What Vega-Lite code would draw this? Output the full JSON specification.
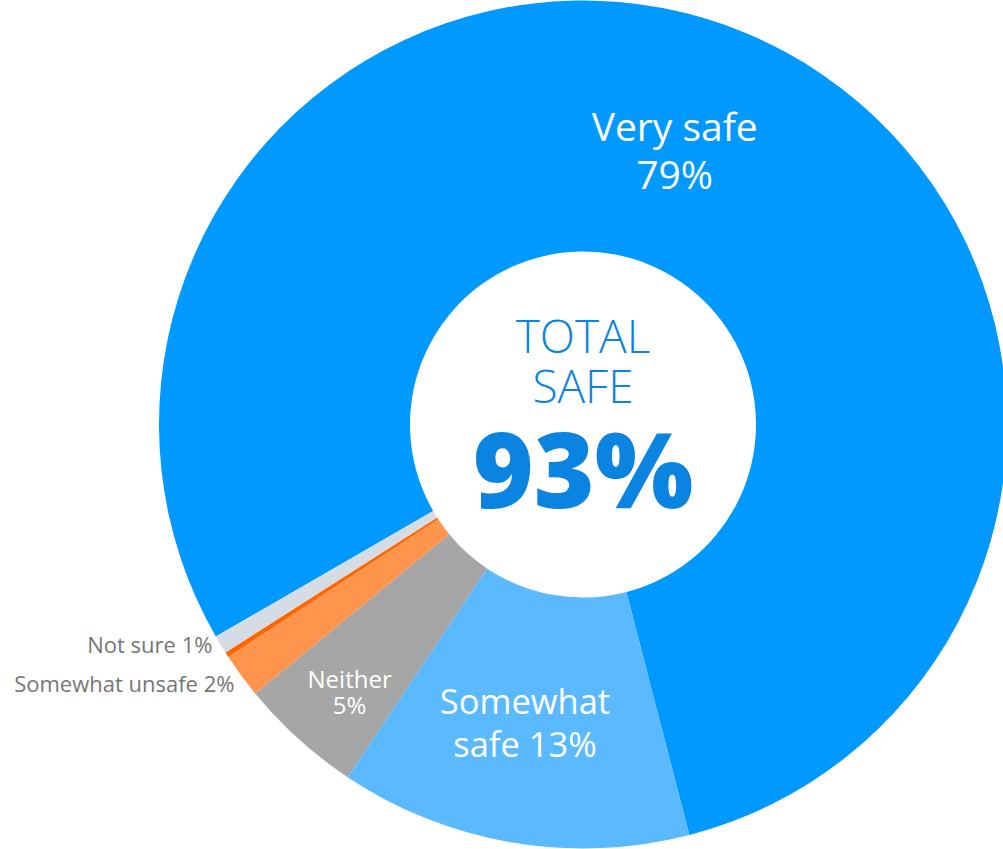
{
  "$schema": "https://vega.github.io/schema/vega-lite/v6.json",
  "autosize": "none",
  "width": 840,
  "height": 849,
  "padding": {"left": 163, "top": 0, "right": 0, "bottom": 0},
  "background": "white",
  "config": {"view": {"stroke": null}, "text": {"font": "Open Sans"}},
  "datasets": {
    "answers": [
      {"category": "Very safe", "value": 79.3, "order": 1, "line1": "Very safe", "line2": "79%"},
      {"category": "Somewhat safe", "value": 13.4, "order": 2, "line1": "Somewhat", "line2": "safe 13%"},
      {"category": "Neither", "value": 4.7, "order": 3, "line1": "Neither", "line2": "5%"},
      {"category": "Somewhat unsafe", "value": 1.7, "order": 4, "line1": "Somewhat unsafe 2%", "line2": ""},
      {"category": "Very unsafe", "value": 0.2, "order": 5, "line1": "", "line2": ""},
      {"category": "Not sure", "value": 0.7, "order": 6, "line1": "Not sure 1%", "line2": ""}
    ],
    "center": [{"title1": "TOTAL", "title2": "SAFE", "total": "93%"}]
  },
  "layer": [
    {
      "data": {"name": "answers"},
      "encoding": {
        "theta": {"field": "value", "type": "quantitative", "stack": true, "scale": {"range": [-2.0944, 4.1888]}},
        "order": {"field": "order", "type": "quantitative"}
      },
      "layer": [
        {
          "mark": {"type": "arc", "outerRadius": 424, "innerRadius": 173},
          "encoding": {
            "color": {
              "field": "category", "type": "nominal", "legend": null,
              "scale": {
                "domain": ["Very safe", "Somewhat safe", "Neither", "Somewhat unsafe", "Very unsafe", "Not sure"],
                "range": ["#0099FF", "#5BBAFF", "#A6A6A6", "#FF944D", "#FF6600", "#D6DCE5"]
              }
            }
          }
        },
        {
          "mark": {"type": "text", "radius": 307, "dx": -27, "align": "center", "baseline": "alphabetic", "fontSize": 39, "color": "white"},
          "encoding": {"text": {"condition": {"test": "datum.category === 'Very safe'", "field": "line1"}, "value": ""}}
        },
        {
          "mark": {"type": "text", "radius": 307, "dx": -27, "dy": 48, "align": "center", "baseline": "alphabetic", "fontSize": 39, "color": "white"},
          "encoding": {"text": {"condition": {"test": "datum.category === 'Very safe'", "field": "line2"}, "value": ""}}
        },
        {
          "mark": {"type": "text", "radius": 294, "dx": -9, "align": "center", "baseline": "alphabetic", "fontSize": 34.5, "color": "white"},
          "encoding": {"text": {"condition": {"test": "datum.category === 'Somewhat safe'", "field": "line1"}, "value": ""}}
        },
        {
          "mark": {"type": "text", "radius": 294, "dx": -9, "dy": 43, "align": "center", "baseline": "alphabetic", "fontSize": 34.5, "color": "white"},
          "encoding": {"text": {"condition": {"test": "datum.category === 'Somewhat safe'", "field": "line2"}, "value": ""}}
        },
        {
          "mark": {"type": "text", "radius": 355, "dx": 5, "align": "center", "baseline": "alphabetic", "fontSize": 24, "color": "white"},
          "encoding": {"text": {"condition": {"test": "datum.category === 'Neither'", "field": "line1"}, "value": ""}}
        },
        {
          "mark": {"type": "text", "radius": 355, "dx": 5, "dy": 26, "align": "center", "baseline": "alphabetic", "fontSize": 24, "color": "white"},
          "encoding": {"text": {"condition": {"test": "datum.category === 'Neither'", "field": "line2"}, "value": ""}}
        },
        {
          "mark": {"type": "text", "radius": 430, "dx": -2, "dy": 13, "align": "right", "baseline": "alphabetic", "fontSize": 22, "color": "#767676"},
          "encoding": {"text": {"condition": {"test": "datum.category === 'Somewhat unsafe'", "field": "line1"}, "value": ""}}
        },
        {
          "mark": {"type": "text", "radius": 430, "dx": -3, "dy": 5, "align": "right", "baseline": "alphabetic", "fontSize": 22, "color": "#767676"},
          "encoding": {"text": {"condition": {"test": "datum.category === 'Not sure'", "field": "line1"}, "value": ""}}
        }
      ]
    },
    {
      "data": {"name": "center"},
      "mark": {"type": "text", "align": "center", "baseline": "alphabetic", "dy": -72, "fontSize": 46, "fontWeight": 300, "color": "#0B84DE"},
      "encoding": {"text": {"field": "title1", "type": "nominal"}}
    },
    {
      "data": {"name": "center"},
      "mark": {"type": "text", "align": "center", "baseline": "alphabetic", "dy": -22, "fontSize": 46, "fontWeight": 300, "color": "#0B84DE"},
      "encoding": {"text": {"field": "title2", "type": "nominal"}}
    },
    {
      "data": {"name": "center"},
      "mark": {"type": "text", "align": "center", "baseline": "alphabetic", "dy": 83, "fontSize": 104, "fontWeight": 800, "color": "#0A84E0"},
      "encoding": {"text": {"field": "total", "type": "nominal"}}
    }
  ]
}
